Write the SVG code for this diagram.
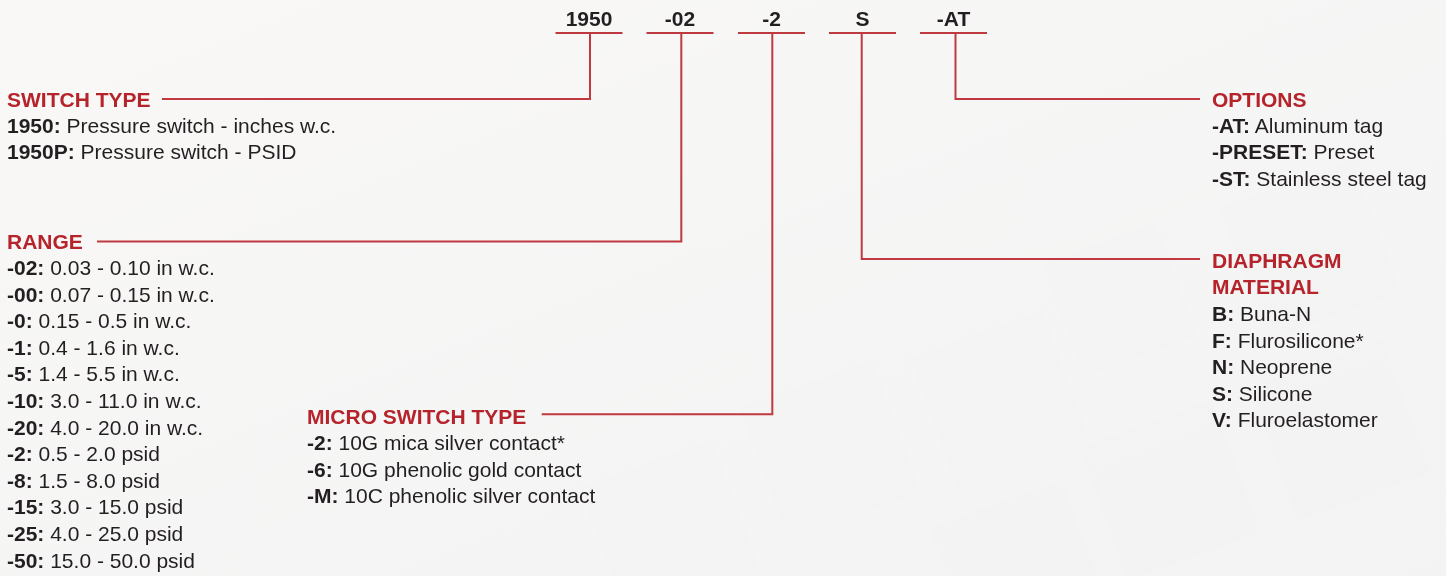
<svg xmlns="http://www.w3.org/2000/svg" width="1446" height="576" viewBox="0 0 1446 576">
<defs>
<style>
.code{font-family:"Liberation Sans",Arial,sans-serif;font-weight:bold;font-size:21px;fill:#231f20;text-anchor:middle}
.head{font-family:"Liberation Sans",Arial,sans-serif;font-weight:bold;font-size:21px;fill:#b5232b}
.body{font-family:"Liberation Sans",Arial,sans-serif;font-size:21px;fill:#231f20}
.body tspan.k{font-weight:bold}
.cn{fill:none;stroke:#bf3a40;stroke-width:2}
.tile{fill:#f0f0f0}
</style>
<linearGradient id="bg" x1="0" y1="0" x2="1" y2="1">
<stop offset="0" stop-color="#f9f8f7"/>
<stop offset="1" stop-color="#f3f3f3"/>
</linearGradient>
</defs>
<rect width="1446" height="576" fill="url(#bg)"/>
<g id="background-tiles" opacity="0.3">
<rect class="tile" x="760" y="380" width="140" height="140" transform="rotate(-20 830 450)"/>
<rect class="tile" x="930" y="330" width="140" height="140" transform="rotate(-20 1000 400)"/>
<rect class="tile" x="1100" y="420" width="140" height="140" transform="rotate(-20 1170 490)"/>
<rect class="tile" x="1270" y="360" width="140" height="140" transform="rotate(-20 1340 430)"/>
<rect class="tile" x="1240" y="180" width="140" height="140" transform="rotate(-20 1310 250)"/>
<rect class="tile" x="1060" y="240" width="120" height="120" transform="rotate(-20 1120 300)"/>
<rect class="tile" x="600" y="460" width="140" height="140" transform="rotate(-20 670 530)"/>
<rect class="tile" x="950" y="500" width="140" height="140" transform="rotate(-20 1020 570)"/>
</g>
<g id="connectors">
<path class="cn" d="M555.5 33H622.5"/>
<path class="cn" d="M646.5 33H713.5"/>
<path class="cn" d="M738 33H805"/>
<path class="cn" d="M829 33H896"/>
<path class="cn" d="M920 33H987"/>
<path class="cn" d="M590 33V99H162"/>
<path class="cn" d="M681.3 33V241.5H97"/>
<path class="cn" d="M772.3 33V414.3H541.7"/>
<path class="cn" d="M861.7 33V259H1200"/>
<path class="cn" d="M955.5 33V99H1200"/>
</g>
<g id="code-1950"><text class="code" x="589" y="26">1950</text></g>
<g id="code-02"><text class="code" x="680" y="26">-02</text></g>
<g id="code-2"><text class="code" x="771.5" y="26">-2</text></g>
<g id="code-S"><text class="code" x="862.5" y="26">S</text></g>
<g id="code-AT"><text class="code" x="953.5" y="26">-AT</text></g>
<g id="switch-type">
<text class="head" x="7" y="106.5">SWITCH TYPE</text>
<text class="body" x="7" y="132.5"><tspan class="k">1950:</tspan> Pressure switch - inches w.c.</text>
<text class="body" x="7" y="159"><tspan class="k">1950P:</tspan> Pressure switch - PSID</text>
</g>
<g id="range">
<text class="head" x="7" y="249">RANGE</text>
<text class="body" x="7" y="275"><tspan class="k">-02:</tspan> 0.03 - 0.10 in w.c.</text>
<text class="body" x="7" y="301.6"><tspan class="k">-00:</tspan> 0.07 - 0.15 in w.c.</text>
<text class="body" x="7" y="328.2"><tspan class="k">-0:</tspan> 0.15 - 0.5 in w.c.</text>
<text class="body" x="7" y="354.8"><tspan class="k">-1:</tspan> 0.4 - 1.6 in w.c.</text>
<text class="body" x="7" y="381.4"><tspan class="k">-5:</tspan> 1.4 - 5.5 in w.c.</text>
<text class="body" x="7" y="408"><tspan class="k">-10:</tspan> 3.0 - 11.0 in w.c.</text>
<text class="body" x="7" y="434.6"><tspan class="k">-20:</tspan> 4.0 - 20.0 in w.c.</text>
<text class="body" x="7" y="461.2"><tspan class="k">-2:</tspan> 0.5 - 2.0 psid</text>
<text class="body" x="7" y="487.8"><tspan class="k">-8:</tspan> 1.5 - 8.0 psid</text>
<text class="body" x="7" y="514.4"><tspan class="k">-15:</tspan> 3.0 - 15.0 psid</text>
<text class="body" x="7" y="541"><tspan class="k">-25:</tspan> 4.0 - 25.0 psid</text>
<text class="body" x="7" y="567.6"><tspan class="k">-50:</tspan> 15.0 - 50.0 psid</text>
</g>
<g id="micro-switch-type">
<text class="head" x="307" y="424">MICRO SWITCH TYPE</text>
<text class="body" x="307" y="450"><tspan class="k">-2:</tspan> 10G mica silver contact*</text>
<text class="body" x="307" y="476.6"><tspan class="k">-6:</tspan> 10G phenolic gold contact</text>
<text class="body" x="307" y="503.2"><tspan class="k">-M:</tspan> 10C phenolic silver contact</text>
</g>
<g id="options">
<text class="head" x="1212" y="106.5">OPTIONS</text>
<text class="body" x="1212" y="132.5"><tspan class="k">-AT:</tspan> Aluminum tag</text>
<text class="body" x="1212" y="159"><tspan class="k">-PRESET:</tspan> Preset</text>
<text class="body" x="1212" y="185.5"><tspan class="k">-ST:</tspan> Stainless steel tag</text>
</g>
<g id="diaphragm-material">
<text class="head" x="1212" y="268">DIAPHRAGM</text>
<text class="head" x="1212" y="294">MATERIAL</text>
<text class="body" x="1212" y="321"><tspan class="k">B:</tspan> Buna-N</text>
<text class="body" x="1212" y="347.5"><tspan class="k">F:</tspan> Flurosilicone*</text>
<text class="body" x="1212" y="374"><tspan class="k">N:</tspan> Neoprene</text>
<text class="body" x="1212" y="400.5"><tspan class="k">S:</tspan> Silicone</text>
<text class="body" x="1212" y="427"><tspan class="k">V:</tspan> Fluroelastomer</text>
</g>
</svg>
